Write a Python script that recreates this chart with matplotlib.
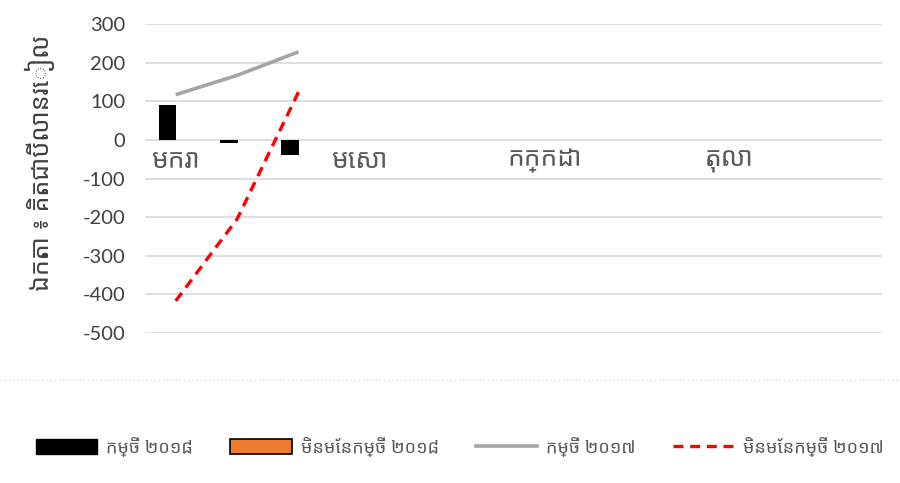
import numpy as np
import matplotlib.pyplot as plt
from matplotlib import font_manager
from matplotlib.lines import Line2D
from matplotlib.patches import Patch

khmer = "Noto Sans Khmer"
names = {f.name for f in font_manager.fontManager.ttflist}
if khmer not in names:
    khmer = sorted(n for n in names if "Khmer" in n)[0]
plt.rcParams["font.family"] = ["Lato", khmer, "DejaVu Sans"]
plt.rcParams["axes.unicode_minus"] = False

# ─── Data ───────────────────────────────────────────────────────────────
months = ["មករា", "កុម្ភៈ", "មីនា", "មេសា", "ឧសភា", "មិថុនា",
          "កក្កដា", "សីហា", "កញ្ញា", "តុលា", "វិច្ឆិកា", "ធ្នូ"]
loan_2018 = [90, -9, -40]
nonloan_2018 = [np.nan, np.nan, np.nan]
loan_2017 = [117, 167, 228]
nonloan_2017 = [-417, -205, 124]

y_label = "ឯកតា ៖ គិតជាប៊ីលានរៀល"
series_names = ["កម្ចី ២០១៨", "មិនមែនកម្ចី ២០១៨", "កម្ចី ២០១៧", "មិនមែនកម្ចី ២០១៧"]

# ─── Plot ───────────────────────────────────────────────────────────────
fig = plt.figure(figsize=(9, 4.83), dpi=100)
ax = fig.add_axes([145 / 900, 1 - 333 / 483, 737 / 900, 309 / 483])

x = np.arange(len(months))
n = len(loan_2018)
bw = 0.29
ax.bar(x[:n] - 0.135, loan_2018, width=bw, color="black", zorder=2)
ax.bar(x[:n] + 0.135, nonloan_2018, width=bw, color="#ed7d31",
       edgecolor="black", zorder=2)
ax.plot(x[:n], loan_2017, color="#a5a5a5", lw=2.6, zorder=3,
        solid_capstyle="butt")
ax.plot(x[:n], nonloan_2017, color="red", lw=2.4, ls=(0, (3, 2)), zorder=3)

ax.set_xlim(-0.5, len(months) - 0.5)
ax.set_ylim(-500, 300)
ax.set_yticks(np.arange(-500, 301, 100))
ax.grid(axis="y", color="#d9d9d9", lw=1.2, zorder=0)
ax.set_axisbelow(True)

ax.spines["bottom"].set_position(("data", 0))
for s in ax.spines.values():
    s.set_visible(False)
ax.set_xticks(x[::3])
ax.set_xticklabels(months[::3])
ax.tick_params(axis="x", length=0, pad=6, labelsize=19, labelcolor="#595959")
ax.tick_params(axis="y", length=0, labelsize=14.5, labelcolor="#404040", pad=14)

ax.set_ylabel(y_label, fontsize=18, color="#404040")
ax.yaxis.set_label_coords(-0.122, 0.55)

# dotted separator above legend
fig.add_artist(Line2D([0, 1], [1 - 380 / 483] * 2, transform=fig.transFigure,
                      color="#d9d9d9", lw=1, ls=(0, (1, 2))))

handles = [
    Patch(facecolor="black", edgecolor="black"),
    Patch(facecolor="#ed7d31", edgecolor="black", lw=1.2),
    Line2D([], [], color="#a5a5a5", lw=2.6),
    Line2D([], [], color="red", lw=2.4, ls=(0, (3, 2))),
]
fig.legend(handles, series_names, loc="center", ncol=4,
           bbox_to_anchor=(0.511, 1 - 447 / 483), frameon=False,
           fontsize=13, labelcolor="#595959", handlelength=3.4,
           handleheight=0.9, columnspacing=2.05, handletextpad=0.5)

fig.savefig("out.png", dpi=100)
